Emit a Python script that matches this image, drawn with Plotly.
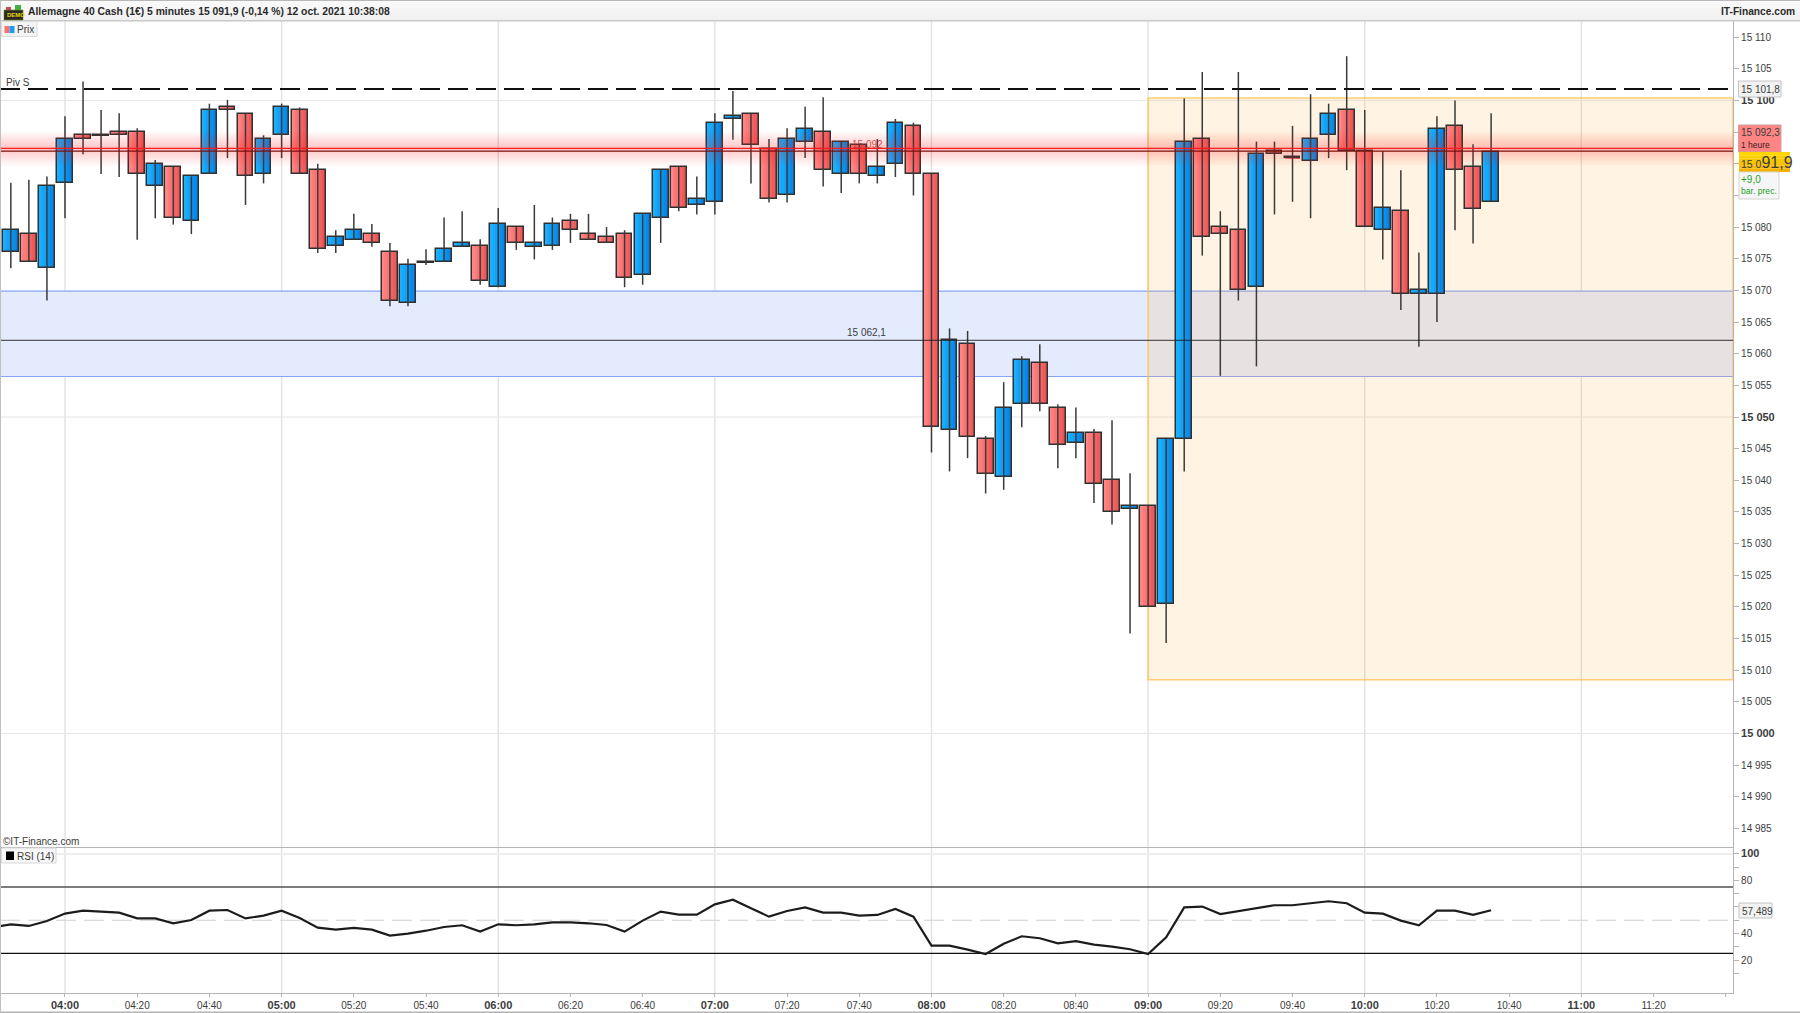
import pandas as pd
import plotly.graph_objects as go

W, H = 1800, 1013
times = pd.date_range("2021-10-12 03:45", periods=83, freq="5min")

opens = [15076.0,15078.9,15073.5,15086.9,15094.5,15094.5,15095,15095,15086.5,15089.5,15081,15088.4,15099,15097.9,15088.4,15094.5,15098.5,15089,15077,15078,15078.9,15076,15068,15074.5,15074.5,15076.9,15077,15070.5,15080,15076.9,15077,15081,15078.9,15078.5,15078.9,15072.4,15081.5,15089.5,15083.5,15084,15097,15097.9,15092.4,15085,15093.5,15095,15088.4,15093,15088,15089.9,15096,15088.4,15048,15061.5,15046.5,15040.5,15052,15058.5,15051.5,15045.9,15047.5,15040,15035.4,15036,15020.5,15046.5,15093.9,15080,15079.5,15070.5,15092,15091,15090.5,15094.5,15098.5,15092,15079.5,15082.5,15069.5,15069.5,15096,15089.5,15084]
highs = [15087,15087.5,15088,15097.5,15103,15098.5,15098,15095.6,15090.6,15089.5,15088,15099.5,15100.1,15097.9,15094.5,15099.5,15098.9,15090,15079.5,15082.1,15080.5,15077.5,15075,15076.5,15081.5,15082.5,15078.1,15083,15080,15083.5,15081.5,15082.1,15082.1,15080,15079.5,15082,15089,15089.5,15088,15098,15101.5,15097.9,15093.9,15095.6,15099,15100.5,15093.5,15093,15093.9,15097.1,15096.5,15088.4,15064,15063.6,15047,15055.5,15059.6,15061.5,15052,15051.5,15048.1,15049.5,15041.1,15036,15046.5,15100.3,15104.5,15082.5,15104.5,15093.5,15093.5,15096,15101,15099.5,15107,15098.5,15092,15089,15076,15097.5,15100,15093.1,15098]
lows = [15073.5,15074.5,15068.4,15081.4,15091.5,15088.4,15087.9,15078,15081.4,15080.4,15078.9,15088.4,15090.9,15083.5,15086.9,15090.9,15088.4,15075.9,15075.9,15078,15076.9,15067.5,15067.5,15074,15074.5,15076.9,15070.9,15070.5,15076.4,15074.9,15076.4,15077.5,15078,15077.5,15070.5,15070.9,15077.5,15082.5,15082,15082,15093.8,15086.9,15083.9,15083.9,15090.9,15086.4,15085.4,15086.9,15086.9,15087.9,15085,15044.4,15041.4,15043.5,15037.9,15038.5,15048.4,15050.9,15041.9,15043.5,15036.4,15033,15015.8,15020,15014.3,15041.4,15075.5,15056.5,15068.4,15058,15082,15084,15081.4,15090.9,15089,15080,15074.9,15066.9,15061.1,15065,15079.5,15077.4,15084]
closes = [15079.5,15074.5,15086.5,15093.9,15093.9,15094.4,15094.5,15088.4,15089.9,15081.5,15088,15098.5,15098.5,15088,15093.9,15098.9,15088.4,15076.5,15078.5,15079.5,15077.5,15068.4,15074,15074.4,15076.5,15077.5,15071.5,15080.5,15077.5,15077.5,15080.5,15079.5,15078,15077.5,15072,15082,15089,15083,15084.4,15096.4,15097.5,15093,15084.4,15093.9,15095.5,15089,15093.5,15088.4,15089.5,15096.4,15088.4,15048.4,15062.1,15046.9,15041,15051.5,15059,15052,15045.5,15047.5,15039.4,15035,15036,15020,15046.5,15093.5,15078.5,15078.9,15070,15091.5,15091.5,15090.9,15093.9,15097.9,15092,15080,15083,15069.5,15070,15095.5,15089,15082.9,15091.9]
rsi_times = pd.date_range("2021-10-12 03:40", periods=84, freq="5min")
rsi_values = [44.7,46.9,45.7,49.4,55.0,57.2,56.5,55.7,51.4,51.4,47.7,50.2,57.2,57.7,51.4,53.5,57.2,51.7,44.4,42.9,44.2,42.9,38.4,39.9,42.1,44.9,46.2,41.4,46.9,46.2,46.9,48.4,48.4,47.7,46.4,41.4,49.7,56.5,54.2,54.2,62.0,65.5,59.0,52.7,57.0,59.7,55.7,55.7,53.5,54.0,58.5,52.7,30.8,30.8,27.8,24.5,32.3,37.9,36.4,32.6,34.3,31.6,30.1,28.1,24.5,37.1,59.7,60.3,54.7,57.0,59.0,61.3,61.3,62.8,64.3,62.8,55.7,55.0,49.7,46.2,57.2,57.2,54.0,57.5]

price_ticks = list(range(14985, 15115, 5))
bold_prices = [15000, 15050, 15100]
hidden_prices = [15085, 15090, 15095]
rsi_ticks = list(range(10, 110, 10))
rsi_labelled = [20, 40, 80, 100]
time_ticks = pd.date_range("2021-10-12 04:00", "2021-10-12 11:40", freq="20min")
hour_ticks = pd.date_range("2021-10-12 04:00", "2021-10-12 11:00", freq="1h")

PIVOT, RES_1H, RES_1H_B, SUPPORT = 15101.8, 15092.45, 15092.0, 15062.1
BLUE_ZONE = (15056.4, 15069.9)
ORANGE_ZONE = (15008.5, 15100.4)
X0, X1 = pd.Timestamp("2021-10-12 03:42"), pd.Timestamp("2021-10-12 11:42")
ORANGE_X0 = pd.Timestamp("2021-10-12 09:00")

FONT = "Liberation Sans"
TXT = "#3c3c3c"
AXC = "#b4b4b4"
PLOT_R, MAIN_T, MAIN_B, RSI_T, RSI_B = 1733, 21, 847, 847.3, 993.3


def px(x):
    return x / W


def py(y):
    return 1 - y / H


ups = [c >= o for o, c in zip(opens, closes)]
BAR_MS = 300000
BODY = 0.87 * BAR_MS
N_SLICE = 7
RED_L, RED_R = (255, 132, 132), (236, 82, 82)
BLUE_L, BLUE_R = (26, 176, 255), (4, 128, 226)


def mix(a, b, t):
    return "rgb(%d,%d,%d)" % tuple(round(a[i] + (b[i] - a[i]) * t) for i in range(3))


fig = go.Figure()
wx, wy = [], []
for t, lo, hi in zip(times, lows, highs):
    wx += [t, t, None]
    wy += [lo, hi, None]
fig.add_trace(go.Scatter(x=wx, y=wy, mode="lines", line=dict(color="#3a3a3a", width=1.5),
                         hoverinfo="skip", showlegend=False))
deltas = [c - o for o, c in zip(opens, closes)]
for k in range(N_SLICE):
    t = k / (N_SLICE - 1)
    cols = [mix(BLUE_L, BLUE_R, t) if u else mix(RED_L, RED_R, t) for u in ups]
    fig.add_trace(go.Bar(x=times, y=deltas, base=opens, width=BODY / N_SLICE,
                         offset=-BODY / 2 + k * BODY / N_SLICE,
                         marker=dict(color=cols, line=dict(width=0)),
                         hoverinfo="skip", showlegend=False))
fig.add_trace(go.Bar(x=times, y=deltas, base=opens, width=BODY, offset=-BODY / 2,
                     marker=dict(color="rgba(0,0,0,0)", line=dict(color="#303030", width=1.5)),
                     showlegend=False))
fig.add_trace(go.Scatter(x=rsi_times, y=rsi_values, yaxis="y2", mode="lines",
                         line=dict(color="#1c1c1c", width=2.2), showlegend=False))

shapes = []
for h in hour_ticks:
    shapes.append(dict(type="line", xref="x", x0=h, x1=h, yref="paper", y0=py(RSI_B), y1=py(MAIN_T),
                       line=dict(color="#e2e2e2", width=1.4), layer="below"))
for v in bold_prices:
    shapes.append(dict(type="line", xref="paper", x0=0, x1=px(PLOT_R), yref="y", y0=v, y1=v,
                       line=dict(color="#e6e6e6", width=1.2), layer="below"))
shapes.append(dict(type="rect", xref="paper", x0=0, x1=px(PLOT_R), yref="y", y0=BLUE_ZONE[0], y1=BLUE_ZONE[1],
                   fillcolor="#e4ebfd", line=dict(width=0), layer="below"))
for v in BLUE_ZONE:
    shapes.append(dict(type="line", xref="paper", x0=0, x1=px(PLOT_R), yref="y", y0=v, y1=v,
                       line=dict(color="#84a6f4", width=1.2), layer="below"))
shapes.append(dict(type="rect", xref="x", x0=ORANGE_X0, x1=X1, yref="y", y0=ORANGE_ZONE[0], y1=ORANGE_ZONE[1],
                   fillcolor="rgba(255,180,60,0.14)", line=dict(color="rgba(255,190,70,0.75)", width=1.5), layer="below"))
N_G = 14
for i in range(1, N_G + 1):
    d = 2.75 * i / N_G
    shapes.append(dict(type="rect", xref="paper", x0=0, x1=px(PLOT_R), yref="y", y0=15092.4 - d, y1=15092.4 + d,
                       fillcolor="rgba(255,40,40,0.02)", line=dict(width=0), layer="above"))
shapes.append(dict(type="line", xref="paper", x0=0, x1=px(PLOT_R), yref="y", y0=RES_1H, y1=RES_1H,
                   line=dict(color="#ff1c1c", width=1.2), layer="above"))
shapes.append(dict(type="line", xref="paper", x0=0, x1=px(PLOT_R), yref="y", y0=RES_1H_B, y1=RES_1H_B,
                   line=dict(color="#7a1010", width=1.2), layer="above"))
shapes.append(dict(type="line", xref="paper", x0=0, x1=px(PLOT_R), yref="y", y0=SUPPORT, y1=SUPPORT,
                   line=dict(color="rgba(30,30,30,0.72)", width=1.3), layer="above"))
shapes.append(dict(type="line", xref="paper", x0=0, x1=px(PLOT_R), yref="y", y0=PIVOT, y1=PIVOT,
                   line=dict(color="#111111", width=2, dash="20px,8px"), layer="above"))
shapes.append(dict(type="line", xref="paper", x0=0, x1=px(PLOT_R), yref="y2", y0=100, y1=100,
                   line=dict(color="#eeeeee", width=2), layer="below"))
shapes.append(dict(type="line", xref="paper", x0=0, x1=px(PLOT_R), yref="y2", y0=75, y1=75,
                   line=dict(color="#505050", width=1.5), layer="below"))
shapes.append(dict(type="line", xref="paper", x0=0, x1=px(PLOT_R), yref="y2", y0=25, y1=25,
                   line=dict(color="#111111", width=1.2), layer="below"))
shapes.append(dict(type="line", xref="paper", x0=0, x1=px(PLOT_R), yref="y2", y0=50, y1=50,
                   line=dict(color="#d0d0d0", width=1.2, dash="20px,8px"), layer="below"))


def box(x0, y0, x1, y1, fill, line=None, lw=1):
    shapes.append(dict(type="rect", xref="paper", yref="paper", x0=px(x0), x1=px(x1), y0=py(y1), y1=py(y0),
                       fillcolor=fill, line=dict(color=line or "rgba(0,0,0,0)", width=lw if line else 0), layer="above"))


for i in range(10):
    g = 250 - i
    box(0, i * 2, W, (i + 1) * 2, "rgb(%d,%d,%d)" % (g, g, g))
box(0, 0, W, 1, "#b8b8b8")
box(0, 20, W, 21.4, "#c8c8c8")
box(0, MAIN_B, PLOT_R, MAIN_B + 1, AXC)
box(0, H - 1.4, W, H, "#b4b4b4")
box(0, 0, 1, H, "#c0c0c0")
box(4, 10, 23, 20, "#2a2a20", "#7a7a30", 0.6)
box(6, 7, 11, 10, "#c05050")
box(15, 5, 21, 10, "#40b040")
box(1.5, 21.5, 37, 36.5, "#f4f4f4", "#dcdcdc")
box(4.5, 26, 9.5, 33, "#ff7070")
box(9.5, 26, 14.5, 33, "#1a9cf4")
box(1.5, 848, 56, 863, "#f8f8f8", "#d8d8d8")
box(6, 851.5, 14, 860, "#000000")
box(1738.5, 81, 1781, 97, "#f2f2f2", "#c4c4c4")
box(1738.5, 125, 1781, 152, "#ff8585", "#d0a0a0")
for i in range(6):
    box(1739, 152 + i * 20 / 6, 1790, 152 + (i + 1) * 20 / 6, "rgb(%d,%d,0)" % (255 - i * 2, 214 - i * 7))
box(1739, 172, 1779, 199, "#f6f6f6", "#d4d4d4")
box(1739, 903, 1772, 918, "#f2f2f2", "#c4c4c4")


def text(x, y, s, size=10, color=TXT, anchor="left"):
    return dict(xref="paper", yref="paper", x=px(x), y=py(y), text=s, showarrow=False, xanchor=anchor,
                yanchor="middle", align=anchor, font=dict(family=FONT, size=size, color=color),
                borderpad=0, xshift=0, yshift=0)


annotations = [
    text(27, 12, "<b>Allemagne 40 Cash (1€) 5 minutes 15 091,9 (-0,14 %) 12 oct. 2021 10:38:08</b>", 10.35, "#2a2a2a"),
    text(1796, 12, "<b>IT-Finance.com</b>", 10.2, "#2a2a2a", "right"),
    text(5.5, 15.5, "<b>DEMO</b>", 6, "#e8d800"),
    text(16, 29.5, "Prix", 10),
    text(16, 856, "RSI (14)", 10),
    text(2, 841.5, "©IT-Finance.com", 10),
    text(5, 82, "Piv S", 10),
    text(846, 332, "15 062,1", 10),
    text(851, 144, "15 092", 10, "rgba(205,40,40,0.8)"),
    text(1740, 89, "15 101,8", 10),
    text(1740, 133, "15 092,3", 10),
    text(1740, 144.5, "1 heure", 8.5, "#402020"),
    text(1740, 162, '15 0<span style="font-size:16px">91,9</span>', 10.5),
    text(1740, 180, "+9,0", 10, "#1ea01e"),
    text(1740, 191, "bar. prec.", 8.6, "#1ea01e"),
    text(1741, 911, "57,489", 10),
]


def strong(s):
    return f'<span style="font-size:11px"><b>{s}</b></span>'


def price_label(v):
    if v in hidden_prices:
        return ""
    s = f"{v // 1000} {v % 1000:03d}"
    return strong(s) if v in bold_prices else s


price_text = [price_label(v) for v in price_ticks]
rsi_text = [(strong(v) if v == 100 else str(v)) if v in rsi_labelled else "" for v in rsi_ticks]
time_text = [strong(f"{t:%H:%M}") if t.minute == 0 else f"{t:%H:%M}" for t in time_ticks]
time_text[-1] = ""

fig.update_layout(
    width=W, height=H, margin=dict(l=0, r=0, t=0, b=0, pad=0), paper_bgcolor="white", plot_bgcolor="white",
    barmode="overlay", bargap=0, showlegend=False, shapes=shapes, annotations=annotations,
    font=dict(family=FONT, size=10, color=TXT),
    xaxis=dict(domain=[0, px(PLOT_R)], anchor="y2", range=[X0, X1], type="date", tickmode="array",
               tickvals=list(time_ticks), ticktext=time_text, ticks="outside", ticklen=3, tickcolor=AXC,
               tickangle=0, showgrid=False, showline=True, linecolor=AXC, linewidth=1.2, zeroline=False,
               tickfont=dict(family=FONT, size=10, color=TXT)),
    yaxis=dict(domain=[py(MAIN_B), py(MAIN_T)], anchor="x", side="right",
               range=[15100 - (MAIN_B - 100.5) / 6.33, 15100 + (100.5 - MAIN_T) / 6.33],
               tickmode="array", tickvals=price_ticks, ticktext=price_text, ticks="outside", ticklen=5,
               tickcolor=AXC, showgrid=False, showline=True, linecolor=AXC, linewidth=1.2, zeroline=False,
               tickfont=dict(family=FONT, size=10, color=TXT)),
    yaxis2=dict(domain=[py(RSI_B), py(RSI_T)], anchor="x", side="right", range=[-5.1, 105],
                tickmode="array", tickvals=rsi_ticks, ticktext=rsi_text, ticks="outside", ticklen=5,
                tickcolor=AXC, showgrid=False, showline=True, linecolor=AXC, linewidth=1.2, zeroline=False,
                tickfont=dict(family=FONT, size=10, color=TXT)),
)
fig.write_html("out.html", config=dict(displayModeBar=False),
               post_script="document.body.style.margin='0';document.documentElement.style.overflow='hidden';")
